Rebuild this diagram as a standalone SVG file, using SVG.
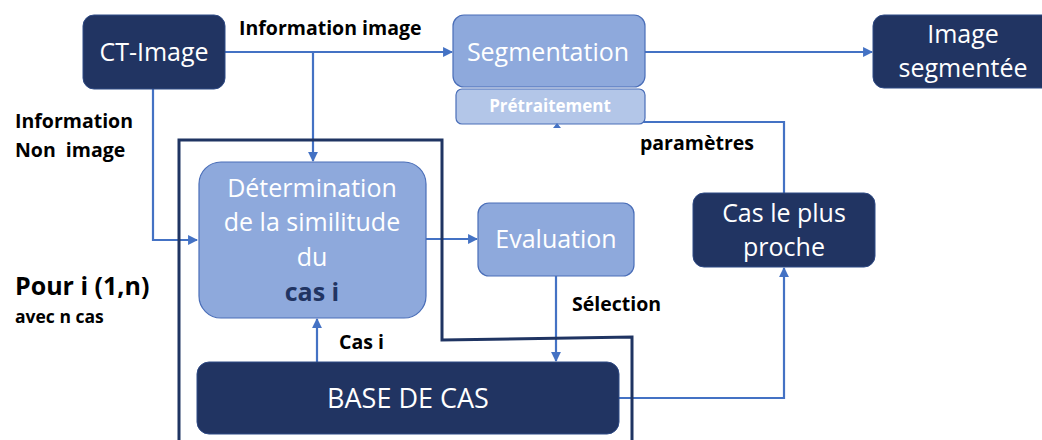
<svg xmlns="http://www.w3.org/2000/svg" width="1042" height="440" viewBox="0 0 1042 440">
<style>
.dark{fill:#213462;stroke:#2F4A85;stroke-width:1}
.light{fill:#8EA9DC;stroke:#4A6EB8;stroke-width:1.2}
.pale{fill:#B3C6E8;stroke:#4A6EB8;stroke-width:1.2}
.nt{font-family:"Open Sans","Liberation Sans",sans-serif;font-size:25px;fill:#fff;text-anchor:middle}
.lb{font-family:"Open Sans","Liberation Sans",sans-serif;font-weight:bold;font-size:19.5px;fill:#000}
.cn{fill:none;stroke:#4472C4;stroke-width:2.2}
.frame{fill:none;stroke:#1F3462;stroke-width:3}
</style>
<defs>
<marker id="ah" viewBox="0 0 10 10" refX="9" refY="5" markerWidth="4.5" markerHeight="4.5" orient="auto" markerUnits="strokeWidth">
<path d="M0,0 L10,5 L0,10 z" fill="#4472C4"/>
</marker>
</defs>
<g id="connectors">
<path class="cn" d="M225,52 H452" marker-end="url(#ah)"/>
<path class="cn" d="M313,52 V161" marker-end="url(#ah)"/>
<path class="cn" d="M153,89 V240 H197" marker-end="url(#ah)"/>
<path class="cn" d="M426,239 H477" marker-end="url(#ah)"/>
<path class="cn" d="M556,276 V361" marker-end="url(#ah)"/>
<path class="cn" d="M317,362 V319" marker-end="url(#ah)"/>
<path class="cn" d="M619,398 H784 V268" marker-end="url(#ah)"/>
<path class="cn" d="M784,193 V122 H557"/>
<path class="cn" d="M645,52 H872" marker-end="url(#ah)"/>
</g>
<g id="frame">
<path class="frame" d="M179,440 V140 H442 V340 L632,337 V440"/>
</g>
<g id="ct-image">
<rect class="dark" x="83" y="15" width="142" height="74" rx="11"/>
<text class="nt" x="154" y="61">CT-Image</text>
</g>
<g id="segmentation">
<rect class="light" x="453" y="15" width="192" height="72" rx="11"/>
<text class="nt" x="548" y="61">Segmentation</text>
</g>
<g id="pretraitement">
<rect class="pale" x="456" y="89" width="189" height="35" rx="6"/>
<text class="nt" x="550" y="112" style="font-size:17px;font-weight:bold">Prétraitement</text>
<path d="M553,128 L557,123 L561,128 z" fill="#4472C4"/>
</g>
<g id="image-segmentee">
<rect class="dark" x="873" y="15" width="182" height="73" rx="11"/>
<text class="nt" x="963" y="43">Image</text>
<text class="nt" x="963" y="77">segmentée</text>
</g>
<g id="determination">
<rect class="light" x="199" y="162" width="227" height="156" rx="22"/>
<text class="nt" x="312" y="197">Détermination</text>
<text class="nt" x="312" y="231">de la similitude</text>
<text class="nt" x="312" y="266">du</text>
<text class="nt" x="312" y="301" style="font-weight:bold;fill:#213462">cas i</text>
</g>
<g id="evaluation">
<rect class="light" x="478" y="203" width="156" height="73" rx="11"/>
<text class="nt" x="556" y="248">Evaluation</text>
</g>
<g id="cas-proche">
<rect class="dark" x="693" y="193" width="182" height="74" rx="11"/>
<text class="nt" x="784" y="222">Cas le plus</text>
<text class="nt" x="784" y="256">proche</text>
</g>
<g id="base-de-cas">
<rect class="dark" x="197" y="362" width="422" height="72" rx="12"/>
<text class="nt" x="408" y="408" style="font-size:27px">BASE DE CAS</text>
</g>
<g id="labels">
<text class="lb" x="239" y="35">Information image</text>
<text class="lb" x="15" y="128">Information</text>
<text class="lb" x="15" y="157" xml:space="preserve">Non  image</text>
<text class="lb" x="15" y="295" style="font-size:25px">Pour i (1,n)</text>
<text class="lb" x="15" y="323" style="font-size:17.5px">avec n cas</text>
<text class="lb" x="339" y="349">Cas i</text>
<text class="lb" x="572" y="311">Sélection</text>
<text class="lb" x="640" y="150">paramètres</text>
</g>
</svg>
